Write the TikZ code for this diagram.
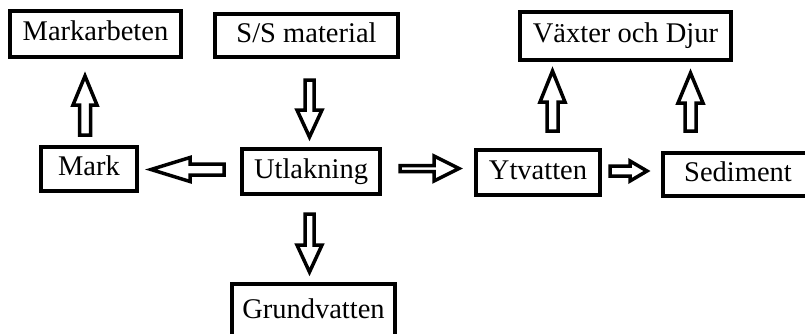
\documentclass[tikz,border=0pt]{standalone}
\usepackage{fontspec}
\setmainfont{Liberation Serif}
\usetikzlibrary{calc}
\tikzset{
  box/.style={draw=black, line width=4pt, inner sep=0pt, fill=white,
    font=\fontsize{28.5}{30}\selectfont, text height=19pt, text depth=6pt},
  barrow/.style={draw=black, line width=3.5pt, fill=white, line join=miter}
}
% #1 tail, #2 tip, #3 shaft half width, #4 head half width, #5 head length
\newcommand\blockarrow[5]{%
  \draw[barrow] let \p1=#1, \p2=#2,
     \n1={veclen(\x2-\x1,\y2-\y1)},
     \n2={(\x2-\x1)/\n1}, \n3={(\y2-\y1)/\n1}, \n4={\n1-#5} in
   ({\x1-(\n3)*#3*1pt},{\y1+(\n2)*#3*1pt})
   -- ({\x1+(\n2)*(\n4)*1pt-(\n3)*#3*1pt},{\y1+(\n3)*(\n4)*1pt+(\n2)*#3*1pt})
   -- ({\x1+(\n2)*(\n4)*1pt-(\n3)*#4*1pt},{\y1+(\n3)*(\n4)*1pt+(\n2)*#4*1pt})
   -- (\p2)
   -- ({\x1+(\n2)*(\n4)*1pt+(\n3)*#4*1pt},{\y1+(\n3)*(\n4)*1pt-(\n2)*#4*1pt})
   -- ({\x1+(\n2)*(\n4)*1pt+(\n3)*#3*1pt},{\y1+(\n3)*(\n4)*1pt-(\n2)*#3*1pt})
   -- ({\x1+(\n3)*#3*1pt},{\y1-(\n2)*#3*1pt})
   -- cycle;}
\begin{document}
\begin{tikzpicture}[x=1pt,y=-1pt]
\useasboundingbox (0,0) rectangle (805,333);
\fill[white] (0,0) rectangle (805,333);

\node[box, minimum width=171pt, minimum height=46pt] (markarb) at (95.5,34) {Markarbeten};
\node[box, minimum width=183pt, minimum height=43pt] (ss) at (306.5,35.5) {S/S material};
\node[box, minimum width=96pt, minimum height=44pt] (mark) at (89,169) {Mark};
\node[box, minimum width=138pt, minimum height=45pt] (utl) at (311,171.5) {Utlakning};
\node[box, minimum width=163pt, minimum height=56pt] (grund) at (313.5,312) {Grundvatten};
\node[box, minimum width=211pt, minimum height=48pt] (vax) at (625.5,36) {Växter och Djur};
\node[box, minimum width=124pt, minimum height=45pt] (ytv) at (538,172.5) {Ytvatten};
\node[box, minimum width=150pt, minimum height=43pt] (sed) at (738,174.5) {Sediment};

\blockarrow{($(mark.north)+(-4,-10)$)}{($(markarb.south)+(-10.5,17)$)}{5.5}{12}{29}
\blockarrow{($(ss.south)+(3,21)$)}{($(utl.north)+(-1.5,-10)$)}{4.5}{12.5}{27}
\blockarrow{($(utl.south)+(-1.5,18)$)}{($(grund.north)+(-4,-10)$)}{4.5}{12.5}{27}
\blockarrow{($(utl.west)+(-16,-2)$)}{($(mark.east)+(12,0.5)$)}{5.5}{12}{39}
\blockarrow{($(utl.east)+(18,-3)$)}{($(ytv.west)+(-15,-4)$)}{3}{12.5}{25}
\blockarrow{($(ytv.east)+(8,-1.5)$)}{($(sed.west)+(-14,-3.5)$)}{5}{10}{17}
\blockarrow{($(ytv.north)+(14.5,-17)$)}{($(vax.south)+(-73,9)$)}{5.5}{12.5}{31}
\blockarrow{($(sed.north)+(-47.5,-20)$)}{($(vax.south)+(65,11)$)}{5.5}{12.5}{30}
\end{tikzpicture}
\end{document}
